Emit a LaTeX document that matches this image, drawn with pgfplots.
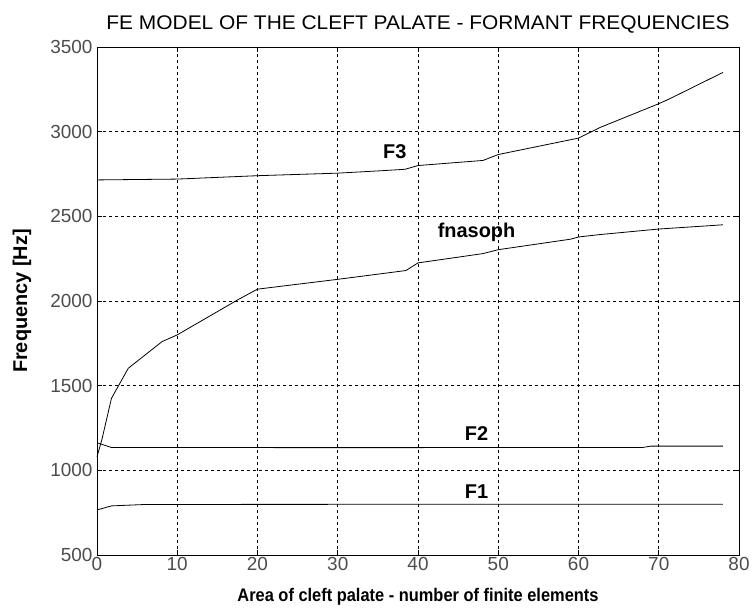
\documentclass[border=0pt]{standalone}
\usepackage{pgfplots}
\pgfplotsset{compat=1.18}
\usepackage{fontspec}
\setmainfont{Liberation Sans}
\newfontfamily\titlefont{Liberation Sans}[FakeStretch=1.06]
\newfontfamily\xlabfont{Liberation Sans}[FakeStretch=0.9]
\begin{document}
\begin{tikzpicture}
\begin{axis}[
  name=ax,
  scale only axis,
  width=642bp, height=508bp,
  xmin=0, xmax=80, ymin=500, ymax=3500,
  xtick={0,10,...,80},
  ytick={500,1000,...,3500},
  grid=major,
  major grid style={black, line width=0.6bp, dash pattern=on 3bp off 3bp},
  tick align=inside,
  major tick length=5bp,
  tick style={black, line width=0.6bp},
  axis line style={black, line width=0.8bp},
  ticklabel style={font=\fontsize{19}{19}\selectfont, text=black!70},
  /pgf/number format/assume math mode=true,
  /pgf/number format/1000 sep={},
  xticklabel style={yshift=1bp},
  yticklabel style={xshift=-1bp},
  xlabel={Area of cleft palate - number of finite elements},
  ylabel={Frequency [Hz]},
  every axis x label/.style={at={(rel axis cs:0.5,0)}, anchor=center, yshift=-42bp, font=\xlabfont\bfseries\fontsize{18.3}{18.3}\selectfont},
  every axis y label/.style={at={(rel axis cs:0,0.5)}, xshift=-75bp, rotate=90, anchor=center, font=\bfseries\fontsize{20}{20}\selectfont},
  clip=false,
]
% F1
\addplot[black, line width=0.8bp] coordinates {
(0,766) (1.8,790) (5.8,798) (20,799) (78,800)
};
% F2
\addplot[black, line width=0.8bp] coordinates {
(0,1163) (1.8,1135) (30,1134) (68,1135) (69,1143) (78,1143)
};
% fnasoph
\addplot[black, line width=0.8bp] coordinates {
(0,1080) (0.6,1180) (1.8,1425) (3.9,1603) (8.1,1760) (10,1800) (17.5,2006) (20,2070)
(30,2128) (38.5,2180) (40,2225) (48.1,2280) (50,2303) (59,2365) (60,2378)
(62.6,2392) (70,2425) (78,2450)
};
% F3
\addplot[black, line width=0.8bp] coordinates {
(0,2715) (10,2720) (20,2740) (30,2755) (35.7,2770) (38.4,2778) (40,2800)
(48.1,2830) (50,2865) (60,2962) (62.7,3025) (70,3165) (71.4,3195) (78,3350)
};
\node[font=\bfseries\fontsize{20}{20}\selectfont] at (axis cs:37.1,2882) {F3};
\node[font=\bfseries\fontsize{20}{20}\selectfont] at (axis cs:47.3,2404) {fnasoph};
\node[font=\bfseries\fontsize{20}{20}\selectfont] at (axis cs:47.3,1219) {F2};
\node[font=\bfseries\fontsize{20}{20}\selectfont] at (axis cs:47.3,874) {F1};
\node[font=\titlefont\fontsize{19.8}{19.8}\selectfont, anchor=base, yshift=17bp] at (rel axis cs:0.5,1) {FE MODEL OF THE CLEFT PALATE - FORMANT FREQUENCIES};
\end{axis}
\path[use as bounding box] ([xshift=-97bp,yshift=-58bp]ax.south west) rectangle ([xshift=15bp,yshift=47bp]ax.north east);
\end{tikzpicture}
\end{document}
